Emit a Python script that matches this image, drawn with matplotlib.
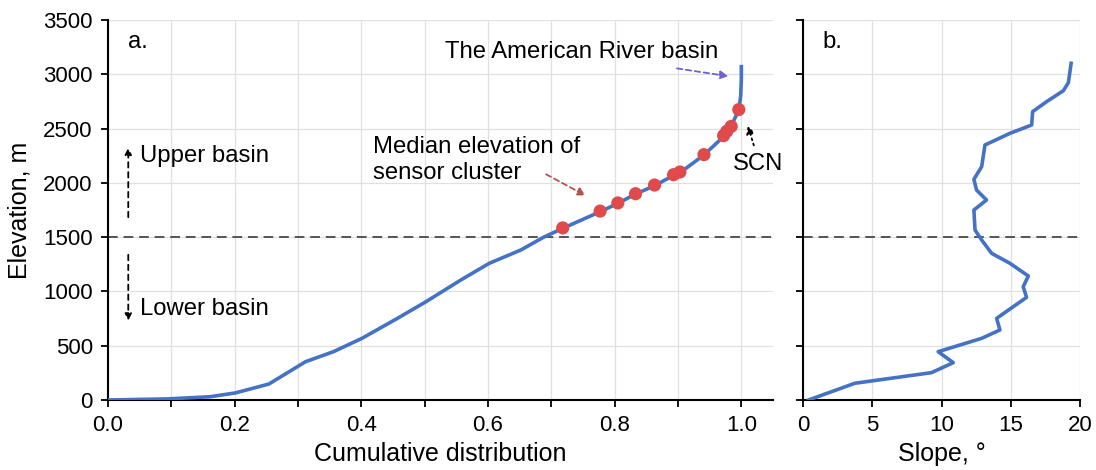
import matplotlib
matplotlib.use("Agg")
import matplotlib.pyplot as plt

plt.rcParams['font.family'] = ['Liberation Sans', 'DejaVu Sans']
plt.rcParams['xtick.labelsize'] = 16
plt.rcParams['ytick.labelsize'] = 16

# Panel a: cumulative distribution of elevation
cdf_x = [0.0, 0.093, 0.161, 0.201, 0.254, 0.312, 0.356, 0.401, 0.457, 0.502,
         0.557, 0.602, 0.652, 0.688, 0.718, 0.777, 0.805, 0.833, 0.863, 0.894,
         0.904, 0.941, 0.973, 0.983, 0.996, 0.999, 1.0, 1.0]
cdf_elev = [0, 10, 30, 65, 147, 353, 445, 568, 752, 905,
            1105, 1259, 1382, 1500, 1581, 1734, 1811, 1897, 1974, 2072,
            2097, 2257, 2432, 2512, 2671, 2800, 2950, 3070]

# Median elevation of sensor clusters
cluster_x = [0.718, 0.777, 0.805, 0.833, 0.863, 0.893, 0.903, 0.941, 0.972, 0.977, 0.984, 0.996]
cluster_elev = [1585, 1740, 1815, 1900, 1980, 2075, 2100, 2260, 2435, 2475, 2520, 2675]

# Panel b: slope by elevation
slope = [0.4, 3.74, 9.28, 10.85, 9.76, 12.9, 14.22, 13.98, 16.14, 15.9, 16.27,
         14.94, 13.62, 12.9, 12.42, 12.34, 13.25, 12.53, 12.34, 12.9, 13.14,
         14.94, 16.51, 16.58, 17.59, 18.8, 19.16, 19.36]
slope_elev = [0, 154, 252, 344, 445, 568, 645, 752, 945, 1044, 1142,
              1259, 1351, 1474, 1566, 1750, 1842, 1934, 2033, 2149, 2349,
              2456, 2533, 2656, 2748, 2849, 2923, 3101]

divide_elev = 1500

line_color = '#4472C4'
pt_color = '#E04A4A'
fs_tick = 16
fs_label = 18
fs_ann = 17.2

fig = plt.figure(figsize=(10.96, 4.70), dpi=100)
ax1 = fig.add_axes([108/1096, 70/470, 665/1096, 380/470])
ax2 = fig.add_axes([803/1096, 70/470, 277/1096, 380/470])

def style(ax):
    for s in ['top', 'right']:
        ax.spines[s].set_visible(False)
    for s in ['left', 'bottom']:
        ax.spines[s].set_linewidth(1.5)
        ax.spines[s].set_color('black')
    ax.tick_params(axis='both', which='both', direction='out', length=5, width=1.3,
                   colors='black', pad=6)
    for lab in ax.get_xticklabels() + ax.get_yticklabels():
        lab.set_fontsize(fs_tick)
    ax.grid(True, which='both', color='#E0E0E0', linewidth=0.9)
    ax.set_axisbelow(True)

# Panel a
ax1.plot(cdf_x, cdf_elev, color=line_color, lw=2.6, zorder=3)
ax1.scatter(cluster_x, cluster_elev, s=90, color=pt_color, zorder=4, edgecolors='none')
ax1.axhline(divide_elev, color='#555555', lw=1.4, ls=(0, (5, 3)), zorder=2)
ax1.set_xlim(0, 1.05)
ax1.set_ylim(0, 3500)
ax1.set_xticks([0.0, 0.2, 0.4, 0.6, 0.8, 1.0])
ax1.set_xticklabels(['0.0', '0.2', '0.4', '0.6', '0.8', '1.0'])
ax1.set_xticks([0.1, 0.3, 0.5, 0.7, 0.9], minor=True)
ax1.set_yticks(range(0, 3501, 500))
ax1.set_xlabel('Cumulative distribution', fontsize=fs_label, labelpad=4)
ax1.set_ylabel('Elevation, m', fontsize=fs_label)
ax1.yaxis.set_label_coords(-0.115, 0.5)
style(ax1)

ax1.text(0.032, 3242, 'a.', fontsize=fs_ann, va='baseline', ha='left')
ax1.text(0.964, 3205, 'The American River basin', fontsize=fs_ann, va='center', ha='right')
ax1.annotate('', xy=(0.984, 2978), xytext=(0.894, 3058),
             arrowprops=dict(arrowstyle='-|>', color='#6B63CF', lw=1.3, ls=(0, (3, 2)),
                             mutation_scale=12))
ax1.text(0.419, 2210, 'Median elevation of\nsensor cluster', fontsize=fs_ann, va='center',
         ha='left', linespacing=1.25)
ax1.annotate('', xy=(0.758, 1870), xytext=(0.688, 2091),
             arrowprops=dict(arrowstyle='-|>', color='#B5534C', lw=1.3, ls=(0, (3, 2)),
                             mutation_scale=12))
ax1.text(0.987, 2170, 'SCN', fontsize=fs_ann, va='center', ha='left')
ax1.annotate('', xy=(1.009, 2551), xytext=(1.021, 2321),
             arrowprops=dict(arrowstyle='-|>', color='black', lw=1.3, ls=(0, (1, 2)),
                             mutation_scale=12))
ax1.annotate('', xy=(0.032, 2350), xytext=(0.032, 1658),
             arrowprops=dict(arrowstyle='-|>', color='black', lw=1.3, ls=(0, (3, 2.5)),
                             mutation_scale=10))
ax1.annotate('', xy=(0.032, 705), xytext=(0.032, 1363),
             arrowprops=dict(arrowstyle='-|>', color='black', lw=1.3, ls=(0, (3, 2.5)),
                             mutation_scale=10))
ax1.text(0.051, 2192, 'Upper basin', fontsize=fs_ann, va='baseline', ha='left')
ax1.text(0.051, 783, 'Lower basin', fontsize=fs_ann, va='baseline', ha='left')

# Panel b
ax2.plot(slope, slope_elev, color=line_color, lw=2.6, zorder=3)
ax2.axhline(divide_elev, color='#555555', lw=1.4, ls=(0, (5, 3)), zorder=2)
ax2.set_xlim(0, 20)
ax2.set_ylim(0, 3500)
ax2.set_xticks([0, 5, 10, 15, 20])
ax2.set_yticks(range(0, 3501, 500))
ax2.set_yticklabels([])
ax2.set_xlabel('Slope, °', fontsize=fs_label, labelpad=4)
style(ax2)
ax2.text(1.37, 3242, 'b.', fontsize=fs_ann, va='baseline', ha='left')

fig.savefig('out.png', dpi=100)
